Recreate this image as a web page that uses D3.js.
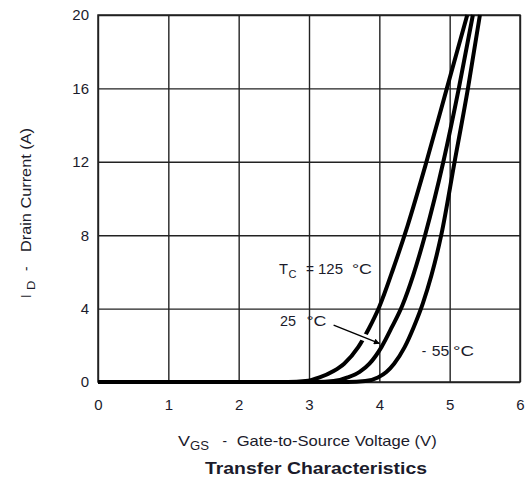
<!DOCTYPE html>
<html>
<head>
<meta charset="utf-8">
<script src="https://cdn.jsdelivr.net/npm/d3@7"></script>
<style>
  html, body { margin: 0; padding: 0; background: #fff; }
  svg { display: block; font-family: "Liberation Sans", Arial, Helvetica, sans-serif; }
</style>
</head>
<body>
<svg id="chart" width="532" height="483"></svg>
<script>
// Gate voltage (V) vs drain current (A) at three case temperatures
const vgs125 = [0, 2.7, 2.95, 3.15, 3.35, 3.5, 3.7, 3.85, 4.0, 4.2, 4.4, 4.67, 4.96, 5.25];
const id125  = [0, 0,   0.05, 0.25, 0.6,  1.0, 1.9, 2.9,  4.1, 6.2, 8.5, 12,   16,   20];

const vgs25 = [0, 3.1, 3.35, 3.55, 3.72, 3.86, 4.03, 4.18, 4.33, 4.48, 4.65, 4.91, 5.13, 5.33];
const id25  = [0, 0,   0.05, 0.25, 0.55, 1.0,  1.9,  3.0,  4.2,  5.8,  8,    12,   16,   20];

const vgsM55 = [0, 3.55, 3.8,  3.98, 4.1,  4.21, 4.36, 4.49, 4.62, 4.74, 4.88, 5.07, 5.26, 5.43];
const idM55  = [0, 0,    0.05, 0.25, 0.55, 1.0,  1.9,  3.0,  4.3,  5.8,  8,    12,   16,   20];

const xTicks = [0, 1, 2, 3, 4, 5, 6];
const yTicks = [0, 4, 8, 12, 16, 20];

const svg = d3.select("#chart");
const plotLeft = 98, plotRight = 520, plotTop = 15, plotBottom = 382;
const ink = "#1b1b2b";

const x = d3.scaleLinear().domain([0, 6]).range([plotLeft, plotRight]);
const y = d3.scaleLinear().domain([0, 20]).range([plotBottom, plotTop]);

// grid + tick labels
const gx = svg.append("g")
  .attr("transform", `translate(0,${plotBottom})`)
  .call(d3.axisBottom(x).tickValues(xTicks).tickSizeInner(-(plotBottom - plotTop)).tickSizeOuter(0).tickPadding(17).tickFormat(d3.format("d")));
const gy = svg.append("g")
  .attr("transform", `translate(${plotLeft},0)`)
  .call(d3.axisLeft(y).tickValues(yTicks).tickSizeInner(-(plotRight - plotLeft)).tickSizeOuter(0).tickPadding(9).tickFormat(d3.format("d")));

[gx, gy].forEach(g => {
  g.select(".domain").remove();
  g.selectAll("line").attr("stroke", "#222").attr("stroke-width", 1.4);
  g.selectAll("text").attr("fill", ink).style("font-size", "15px").style("font-family", "'Liberation Sans', Arial, sans-serif");
});

// plot border
svg.append("rect")
  .attr("x", x(0)).attr("y", y(20))
  .attr("width", x(6) - x(0)).attr("height", y(0) - y(20))
  .attr("fill", "none").attr("stroke", "#222").attr("stroke-width", 1.5);

// curves, clipped to the plot frame
const clipId = "plotClip";
svg.append("clipPath").attr("id", clipId)
  .append("rect").attr("x", x(0)).attr("y", y(20) - 1)
  .attr("width", x(6) - x(0)).attr("height", y(0) - y(20) + 4);

const line = d3.line()
  .x(d => x(d[0]))
  .y(d => y(d[1]))
  .curve(d3.curveMonotoneX);

const series = [
  d3.zip(vgs125, id125),
  d3.zip(vgs25, id25),
  d3.zip(vgsM55, idM55)
];

svg.append("g").attr("clip-path", `url(#${clipId})`)
  .selectAll("path").data(series).join("path")
  .attr("d", line)
  .attr("fill", "none")
  .attr("stroke", "#000")
  .attr("stroke-width", 4)
  .attr("stroke-linejoin", "round");

// text pieces laid out left to right, each stretched to its own width
function pieces(parent, items) {
  items.forEach(p => {
    const t = parent.append("text")
      .attr("x", p.x).attr("y", p.y)
      .attr("fill", ink)
      .style("font-size", p.size + "px")
      .text(p.text);
    if (p.len) t.attr("textLength", p.len).attr("lengthAdjust", "spacingAndGlyphs");
    if (p.bold) t.style("font-weight", "bold");
  });
}

// curve annotations
const ann = svg.append("g");
pieces(ann, [
  { text: "T",   x: 279, y: 274, size: 14, len: 9 },
  { text: "C",   x: 288.5, y: 278, size: 11, len: 8 },
  { text: "=",   x: 306, y: 274, size: 14, len: 8 },
  { text: "125", x: 318, y: 274, size: 14, len: 25 },
  { text: "°C",  x: 352, y: 274, size: 14, len: 20 },
  { text: "25",  x: 280, y: 325.5, size: 14, len: 16 },
  { text: "°C",  x: 306.5, y: 325.5, size: 14, len: 20 },
  { text: "-",   x: 421.7, y: 356, size: 14, len: 4.5 },
  { text: "55",  x: 431.7, y: 356, size: 14, len: 17.5 },
  { text: "°C",  x: 453, y: 356, size: 14, len: 21 }
]);

// arrow pointing at the 25 °C curve, knocking out the 125 °C curve where it crosses
svg.append("defs").append("marker")
  .attr("id", "arrowHead")
  .attr("viewBox", "0 0 10 10").attr("refX", 9).attr("refY", 5)
  .attr("markerWidth", 10).attr("markerHeight", 6).attr("markerUnits", "userSpaceOnUse")
  .attr("orient", "auto")
  .append("path").attr("d", "M0,0 L10,5 L0,10 Z").attr("fill", "#000");

const a0 = [x(3.35), y(3.1)], a1 = [x(4.0), y(2.1)];
const lerp = t => [a0[0] + (a1[0] - a0[0]) * t, a0[1] + (a1[1] - a0[1]) * t];
const h0 = lerp(0.58), h1 = lerp(0.8);
svg.append("line")
  .attr("x1", h0[0]).attr("y1", h0[1])
  .attr("x2", h1[0]).attr("y2", h1[1])
  .attr("stroke", "#fff").attr("stroke-width", 7);

svg.append("line")
  .attr("x1", a0[0]).attr("y1", a0[1])
  .attr("x2", a1[0]).attr("y2", a1[1])
  .attr("stroke", "#000").attr("stroke-width", 1.4)
  .attr("marker-end", "url(#arrowHead)");

// x axis title
const xTitle = svg.append("g");
pieces(xTitle, [
  { text: "V",  x: 178, y: 446, size: 14.5, len: 12 },
  { text: "GS", x: 190, y: 450, size: 12, len: 19 },
  { text: "-",  x: 222.5, y: 446, size: 14.5, len: 4.5 },
  { text: "Gate-to-Source Voltage (V)", x: 236.7, y: 446, size: 14.5, len: 200 }
]);

// y axis title, reading bottom to top
const yTitle = svg.append("g").attr("transform", "translate(31,0) rotate(-90)");
pieces(yTitle, [
  { text: "I",  x: -298, y: 0, size: 14, len: 3.5 },
  { text: "D",  x: -290, y: 3.5, size: 11.5, len: 9.5 },
  { text: "-",  x: -271, y: 0, size: 14, len: 4.5 },
  { text: "Drain Current (A)", x: -252, y: 0, size: 14, len: 124 }
]);

// chart title
pieces(svg.append("g"), [
  { text: "Transfer Characteristics", x: 205, y: 474, size: 17, len: 222, bold: true }
]);
</script>
</body>
</html>
